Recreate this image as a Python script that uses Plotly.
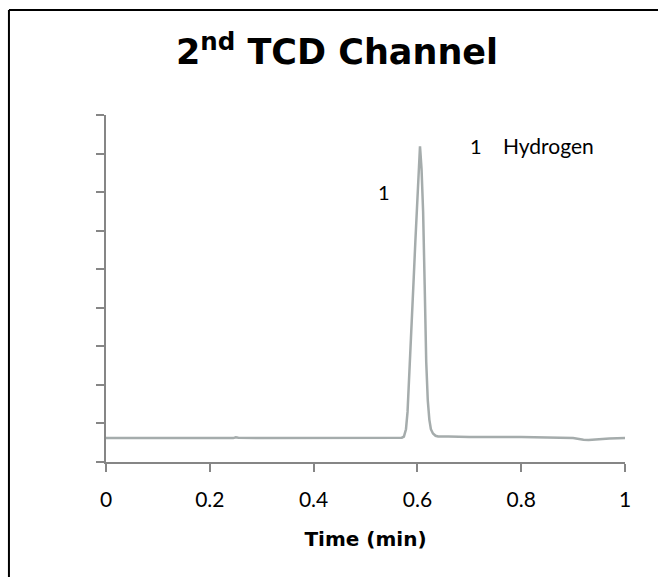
import plotly.graph_objects as go

# Chromatogram trace: retention time (min) vs detector response
time_min = [0.000, 0.100, 0.200, 0.245, 0.250, 0.255, 0.300, 0.400, 0.500, 0.560,
            0.570, 0.574, 0.578, 0.581, 0.584, 0.587, 0.590, 0.593, 0.596, 0.599,
            0.602, 0.605, 0.608, 0.611, 0.614, 0.617, 0.620, 0.623, 0.626, 0.630,
            0.635, 0.640, 0.660, 0.700, 0.800, 0.880, 0.900, 0.920, 0.930, 0.950,
            0.970, 1.000]
response = [0.62, 0.62, 0.62, 0.62, 0.64, 0.63, 0.62, 0.62, 0.62, 0.62,
            0.63, 0.66, 0.85, 1.30, 2.10, 2.90, 3.80, 4.80, 5.70, 6.50,
            7.50, 8.19, 7.60, 6.50, 4.60, 2.60, 1.60, 1.10, 0.85, 0.74,
            0.68, 0.66, 0.66, 0.65, 0.65, 0.64, 0.62, 0.58, 0.57, 0.59,
            0.61, 0.62]

# Peak labels
peak_ids = ["1"]
peak_names = ["Hydrogen"]

x_ticks = [0, 0.2, 0.4, 0.6, 0.8, 1]
x_tick_text = ["0", "0.2", "0.4", "0.6", "0.8", "1"]

AXIS_GREY = "#868686"
TRACE_GREY = "#A5ACAC"

fig = go.Figure()
fig.add_trace(go.Scatter(
    x=time_min, y=response, mode="lines",
    line=dict(color=TRACE_GREY, width=2.5),
    hoverinfo="skip", showlegend=False,
))

# peak number next to the peak
fig.add_annotation(x=0.535, y=7.0, text=peak_ids[0], showarrow=False,
                   font=dict(family="Lato", size=20, color="black"))
# key in the upper right
fig.add_annotation(x=0.712, y=8.2, text=peak_ids[0], showarrow=False,
                   font=dict(family="Lato", size=20, color="black"))
fig.add_annotation(x=0.762, y=8.2, text=peak_names[0], showarrow=False,
                   xanchor="left",
                   font=dict(family="Lato", size=21, color="black"))

# outer frame (top and left edges)
fig.add_shape(type="line", xref="paper", yref="paper",
              x0=-0.187, y0=1.3026, x1=1.1, y1=1.3026,
              line=dict(color="black", width=2))
fig.add_shape(type="line", xref="paper", yref="paper",
              x0=-0.187, y0=1.3026, x1=-0.187, y1=-0.4,
              line=dict(color="black", width=2))

fig.update_layout(
    width=658, height=577,
    margin=dict(l=106, r=33, t=115, b=115),
    paper_bgcolor="white", plot_bgcolor="white",
    title=dict(text="2<sup>nd</sup> TCD Channel",
               font=dict(family="DejaVu Sans", size=35, color="black", weight="bold"),
               x=337 / 658, xanchor="center", y=1 - 52 / 577, yanchor="middle"),
)
fig.update_xaxes(
    range=[0, 1], tickvals=x_ticks, ticktext=x_tick_text,
    showline=True, linecolor=AXIS_GREY, linewidth=1.5,
    ticks="outside", ticklen=8, tickcolor=AXIS_GREY, tickwidth=1.5,
    ticklabelstandoff=10,
    showgrid=False, zeroline=False,
    tickfont=dict(family="Lato", size=21, color="black"),
    title=dict(text="<b>Time (min)</b>", font=dict(family="DejaVu Sans", size=20, color="black"),
               standoff=22),
)
fig.update_yaxes(
    range=[0, 9], dtick=1, tick0=0,
    showline=True, linecolor=AXIS_GREY, linewidth=1.5,
    ticks="outside", ticklen=8, tickcolor=AXIS_GREY, tickwidth=1.5,
    showticklabels=False, showgrid=False, zeroline=False,
)

fig.write_html("out.html")
